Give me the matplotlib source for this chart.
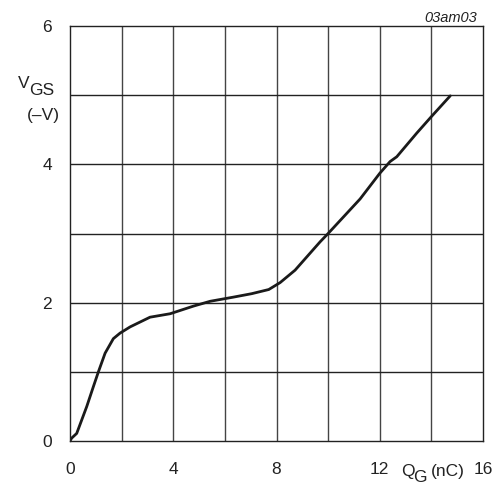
import matplotlib.pyplot as plt

plt.rcParams['font.family'] = ['Liberation Sans', 'DejaVu Sans']

# gate charge curve
qg = [0.0, 0.06, 0.26, 0.65, 0.9, 1.1, 1.36, 1.68, 1.94, 2.33, 3.1, 3.88, 4.78,
      5.43, 6.33, 7.04, 7.7, 8.14, 8.72, 9.69, 10.0, 11.24, 12.0, 12.4, 12.66,
      13.43, 14.0, 14.73]
vgs = [0.0, 0.04, 0.11, 0.5, 0.78, 1.0, 1.27, 1.48, 1.56, 1.65, 1.79, 1.84, 1.95,
       2.02, 2.08, 2.13, 2.19, 2.29, 2.47, 2.88, 3.0, 3.5, 3.87, 4.04, 4.11,
       4.45, 4.69, 4.99]
x_ticks = [0, 4, 8, 12, 16]
y_ticks = [0, 2, 4, 6]

W, H = 497, 484
ink = '#222222'
fs = 12.5
fig = plt.figure(figsize=(W / 100, H / 100), dpi=100)
ax = fig.add_axes([70 / W, 1 - 441 / H, 413 / W, 415 / H])

ax.plot(qg, vgs, color='#1a1a1a', linewidth=2.0, solid_capstyle='round')

ax.set_xlim(0, 16)
ax.set_ylim(0, 6)
for x in range(2, 16, 2):
    ax.axvline(x, color='#444444', linewidth=1.0, zorder=0)
for y in range(1, 6):
    ax.axhline(y, color='#222222', linewidth=1.0, zorder=0)
for s in ax.spines.values():
    s.set_color(ink)
    s.set_linewidth(1.0)

ax.set_xticks(x_ticks)
ax.set_yticks(y_ticks)
ax.tick_params(length=0, labelsize=fs, colors=ink)
ax.tick_params(axis='x', pad=15)
ax.tick_params(axis='y', pad=13)


def px_text(x, y, s, **kw):
    # place text by pixel position of the left/baseline point
    kw.setdefault('fontsize', fs)
    kw.setdefault('color', ink)
    fig.text(x / W, 1 - y / H, s, va='baseline', **kw)


px_text(18, 88, 'V')
px_text(29, 95, 'GS')
px_text(27, 120, '(\u2013V)')
px_text(401, 476, 'Q')
px_text(413, 482, 'G')
px_text(431, 476, '(nC)')
px_text(477, 22, '03am03', fontsize=10.5, style='italic', ha='right')

fig.savefig('out.png', dpi=100)
